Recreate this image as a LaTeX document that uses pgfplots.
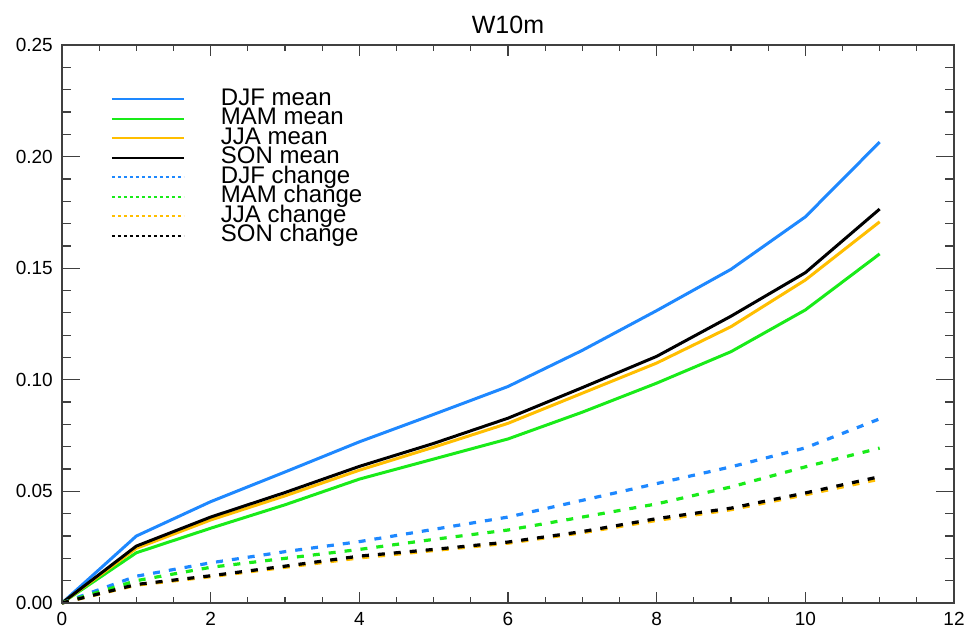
\documentclass[border=0pt]{standalone}
\usepackage{fontspec}
\setmainfont{Liberation Sans}
\usepackage{pgfplots}
\pgfplotsset{compat=1.18}
\definecolor{cDJF}{RGB}{30,136,255}
\definecolor{cMAM}{RGB}{25,235,25}
\definecolor{cJJA}{RGB}{255,190,0}
\definecolor{cSON}{RGB}{0,0,0}
\pgfplotsset{
  common/.style={
    scale only axis, width=892bp, height=558bp,
    xmin=0, xmax=12, ymin=0, ymax=0.25,
    tick align=inside,
    xtick pos=both, ytick pos=both,
    xticklabel pos=bottom, yticklabel pos=left,
    axis line style={black!75, line width=1.3bp},
    every tick/.style={black!75, line width=1.3bp},
    /pgf/number format/assume math mode=true,
    tick label style={font=\fontsize{19bp}{22bp}\selectfont},
    yticklabel style={inner sep=0pt, xshift=-9bp, /pgf/number format/.cd, fixed, fixed zerofill, precision=2},
    xticklabel style={inner sep=0pt, yshift=-9bp},
  }
}
\begin{document}
\begin{tikzpicture}
\begin{axis}[
  common,
  xtick={0,2,4,6,8,10,12},
  ytick=\empty,
  minor x tick num=3,
  major tick length=11bp, minor tick length=6bp,
  every axis title/.style={at={(0.5,1)}, anchor=base, yshift=11bp, font=\fontsize{25bp}{30bp}\selectfont},
  title={W10m},
  clip=false,
  legend style={draw=none, fill=none, at={(0.0549,0.9202)}, anchor=north west,
    inner sep=0pt, outer sep=0pt, row sep=0pt, column sep=36bp,
    font=\fontsize{24bp}{24bp}\selectfont,
    nodes={inner sep=0pt, text height=15.5bp, text depth=4bp}},
  legend cell align=left,
  legend image code/.code={\draw[#1, line width=2bp] (0bp,0bp) -- (72bp,0bp);},
  mean/.style={line width=3bp},
  chg/.style={line width=3.2bp, dash pattern=on 7bp off 9bp,
    legend image code/.code={\draw[##1, line width=2bp, dash pattern=on 3bp off 3bp] (0bp,0bp) -- (72bp,0bp);}},
]
\addplot[mean, cDJF] coordinates {(0,0) (1,0.0300) (2,0.0454) (3,0.0587) (4,0.0722) (5,0.0845) (6,0.0970) (7,0.1132) (8,0.1310) (9,0.1495) (10,0.1730) (11,0.2065)};
\addlegendentry{DJF mean}
\addplot[mean, cMAM] coordinates {(0,0) (1,0.0225) (2,0.0335) (3,0.0440) (4,0.0555) (5,0.0645) (6,0.0735) (7,0.0855) (8,0.0985) (9,0.1126) (10,0.1313) (11,0.1564)};
\addlegendentry{MAM mean}
\addplot[mean, cJJA] coordinates {(0,0) (1,0.0245) (2,0.0372) (3,0.0480) (4,0.0595) (5,0.0698) (6,0.0805) (7,0.0940) (8,0.1075) (9,0.1238) (10,0.1447) (11,0.1708)};
\addlegendentry{JJA mean}
\addplot[mean, cSON] coordinates {(0,0) (1,0.0255) (2,0.0385) (3,0.0495) (4,0.0612) (5,0.0715) (6,0.0828) (7,0.0965) (8,0.1105) (9,0.1285) (10,0.1480) (11,0.1765)};
\addlegendentry{SON mean}
\addplot[chg, cDJF] coordinates {(0,0) (1,0.0120) (2,0.0180) (3,0.0230) (4,0.0275) (5,0.0330) (6,0.0385) (7,0.0460) (8,0.0535) (9,0.0610) (10,0.0695) (11,0.0825)};
\addlegendentry{DJF change}
\addplot[chg, cMAM] coordinates {(0,0) (1,0.0100) (2,0.0160) (3,0.0200) (4,0.0240) (5,0.0285) (6,0.0327) (7,0.0385) (8,0.0444) (9,0.0520) (10,0.0610) (11,0.0694)};
\addlegendentry{MAM change}
\addplot[chg, cJJA] coordinates {(0,0) (1,0.0080) (2,0.0118) (3,0.0160) (4,0.0202) (5,0.0235) (6,0.0268) (7,0.0315) (8,0.0370) (9,0.0418) (10,0.0485) (11,0.0555)};
\addlegendentry{JJA change}
\addplot[chg, cSON] coordinates {(0,0) (1,0.0083) (2,0.0122) (3,0.0165) (4,0.0210) (5,0.0240) (6,0.0273) (7,0.0320) (8,0.0378) (9,0.0425) (10,0.0493) (11,0.0566)};
\addlegendentry{SON change}
\end{axis}
\begin{axis}[
  common,
  xtick=\empty,
  ytick={0,0.05,0.10,0.15,0.20,0.25},
  minor y tick num=4,
  major tick length=18bp, minor tick length=9bp,
]
\end{axis}
\pgfresetboundingbox
\path (current axis.south west) ++(-62bp,-25bp) rectangle ++(967bp,628bp);
\end{tikzpicture}
\end{document}
